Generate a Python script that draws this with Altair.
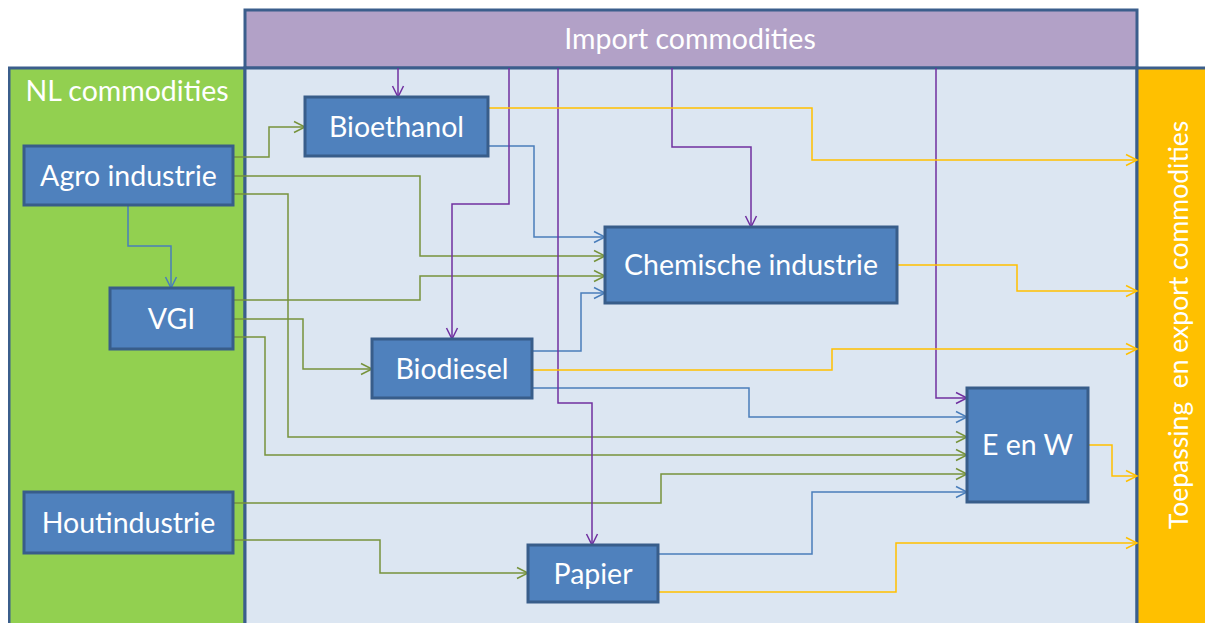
import math
import altair as alt
import pandas as pd

# ---- diagram content (page-pixel layout) ----
region_names = ["Import commodities", "NL commodities", "Centre", "Export"]
region_x0 = [245, 9, 245, 1137]
region_x1 = [1137, 245, 1137, 1230]
region_y0 = [10, 68, 68, 68]
region_y1 = [68, 632, 632, 632]
region_fill = ["#b2a1c7", "#92d050", "#dce6f2", "#ffc000"]

label_text = ["Import commodities", "NL commodities", "Toepassing \u00a0en export commodities"]
label_x = [690, 127, 1180]
label_y = [40, 92, 325]
label_angle = [0, 0, 270]
label_size = [28.5, 28.5, 26.5]

node_names = ["Agro industrie", "VGI", "Houtindustrie", "Bioethanol",
              "Chemische industrie", "Biodiesel", "E en W", "Papier"]
node_x0 = [24, 110, 24, 305, 605, 372, 967, 528]
node_x1 = [233, 233, 233, 488, 897, 532, 1088, 658]
node_y0 = [146, 288, 492, 97, 227, 339, 388, 545]
node_y1 = [205, 349, 553, 156, 303, 398, 502, 602]

edge_kind = ["green"] * 8 + ["blue"] * 5 + ["purple"] * 5 + ["orange"] * 5
edge_x = [
    [233, 269, 269, 305],
    [233, 420, 420, 605],
    [233, 288, 288, 967],
    [233, 420, 420, 605],
    [233, 303, 303, 372],
    [233, 265, 265, 967],
    [233, 661, 661, 967],
    [233, 380, 380, 528],
    [128, 128, 171, 171],
    [488, 534, 534, 605],
    [532, 581, 581, 605],
    [532, 749, 749, 967],
    [658, 812, 812, 967],
    [398, 398],
    [509, 509, 452, 452],
    [558, 558, 592, 592],
    [672, 672, 751, 751],
    [936, 936, 967],
    [488, 812, 812, 1137],
    [897, 1017, 1017, 1137],
    [532, 832, 832, 1137],
    [1088, 1112, 1112, 1137],
    [658, 896, 896, 1137],
]
edge_y = [
    [157, 157, 127, 127],
    [176, 176, 256, 256],
    [194, 194, 437, 437],
    [300, 300, 276, 276],
    [319, 319, 369, 369],
    [337, 337, 455, 455],
    [503, 503, 474, 474],
    [540, 540, 573, 573],
    [205, 246, 246, 288],
    [146, 146, 237, 237],
    [351, 351, 293, 293],
    [388, 388, 417, 417],
    [554, 554, 492, 492],
    [68, 97],
    [68, 204, 204, 339],
    [68, 403, 403, 545],
    [68, 147, 147, 227],
    [68, 398, 398],
    [108, 108, 160, 160],
    [265, 265, 291, 291],
    [370, 370, 349, 349],
    [445, 445, 476, 476],
    [592, 592, 543, 543],
]
kind_domain = ["green", "blue", "purple", "orange"]
kind_range = ["#77933c", "#4a7ebb", "#7030a0", "#ffc000"]

# ---- tables ----
regions = pd.DataFrame({"name": region_names, "x0": region_x0, "x1": region_x1,
                        "y0": region_y0, "y1": region_y1, "fill": region_fill})
labels = pd.DataFrame({"text": label_text, "x": label_x, "y": label_y,
                       "angle": label_angle, "fs": label_size})
nodes = pd.DataFrame({"name": node_names, "x0": node_x0, "x1": node_x1,
                      "y0": node_y0, "y1": node_y1})
nodes["cx"] = (nodes.x0 + nodes.x1) / 2
nodes["cy"] = (nodes.y0 + nodes.y1) / 2 + 1

rows, heads = [], []
for i, (k, xs_, ys_) in enumerate(zip(edge_kind, edge_x, edge_y)):
    for j, (xx, yy) in enumerate(zip(xs_, ys_)):
        rows.append({"edge": i, "seq": j, "x": xx, "y": yy, "kind": k})
    dx, dy = xs_[-1] - xs_[-2], ys_[-1] - ys_[-2]
    heads.append({"edge": i, "x": xs_[-1], "y": ys_[-1], "kind": k,
                  "angle": math.degrees(math.atan2(dy, dx)) % 360})
edges = pd.DataFrame(rows)
arrows = pd.DataFrame(heads)

W, H = 1197, 615
xs = alt.Scale(domain=[8, 8 + W], nice=False, zero=False)
ys = alt.Scale(domain=[8, 8 + H], nice=False, zero=False, reverse=True)
col = alt.Scale(domain=kind_domain, range=kind_range)
FONT_SIZE = 28.5

region_layer = alt.Chart(regions).mark_rect(stroke="#3b5e8c", strokeWidth=3, clip=True).encode(
    x=alt.X("x0:Q", scale=xs, axis=None), x2="x1:Q",
    y=alt.Y("y0:Q", scale=ys, axis=None), y2="y1:Q",
    fill=alt.Fill("fill:N", scale=None),
)
label_layer = alt.Chart(labels).mark_text(
    font="Lato", color="white", align="center", baseline="middle"
).encode(
    x=alt.X("x:Q", scale=xs, axis=None), y=alt.Y("y:Q", scale=ys, axis=None),
    text="text:N", angle=alt.Angle("angle:Q", scale=None),
    size=alt.Size("fs:Q", scale=None, legend=None),
)
edge_layer = alt.Chart(edges).mark_line(strokeWidth=1.5).encode(
    x=alt.X("x:Q", scale=xs, axis=None), y=alt.Y("y:Q", scale=ys, axis=None),
    detail="edge:N", order="seq:Q",
    color=alt.Color("kind:N", scale=col, legend=None),
)
arrow_layer = alt.Chart(arrows).mark_point(
    shape="M -1 -0.5 L 0 0 L -1 0.5", filled=False, size=484, strokeWidth=1.5, opacity=1
).encode(
    x=alt.X("x:Q", scale=xs, axis=None), y=alt.Y("y:Q", scale=ys, axis=None),
    angle=alt.Angle("angle:Q", scale=None),
    color=alt.Color("kind:N", scale=col, legend=None),
)
node_layer = alt.Chart(nodes).mark_rect(fill="#4f81bd", stroke="#385d8a", strokeWidth=3).encode(
    x=alt.X("x0:Q", scale=xs, axis=None), x2="x1:Q",
    y=alt.Y("y0:Q", scale=ys, axis=None), y2="y1:Q",
)
node_text = alt.Chart(nodes).mark_text(
    font="Lato", fontSize=FONT_SIZE, color="white", align="center", baseline="middle"
).encode(
    x=alt.X("cx:Q", scale=xs, axis=None), y=alt.Y("cy:Q", scale=ys, axis=None),
    text="name:N",
)

chart = alt.layer(
    region_layer, label_layer, edge_layer, arrow_layer, node_layer, node_text
).properties(
    width=W, height=H, padding=0, background="white",
    autosize=alt.AutoSizeParams(type="none"),
).configure_view(stroke=None)

chart.save("out.html", embed_options={"renderer": "svg", "actions": False})
